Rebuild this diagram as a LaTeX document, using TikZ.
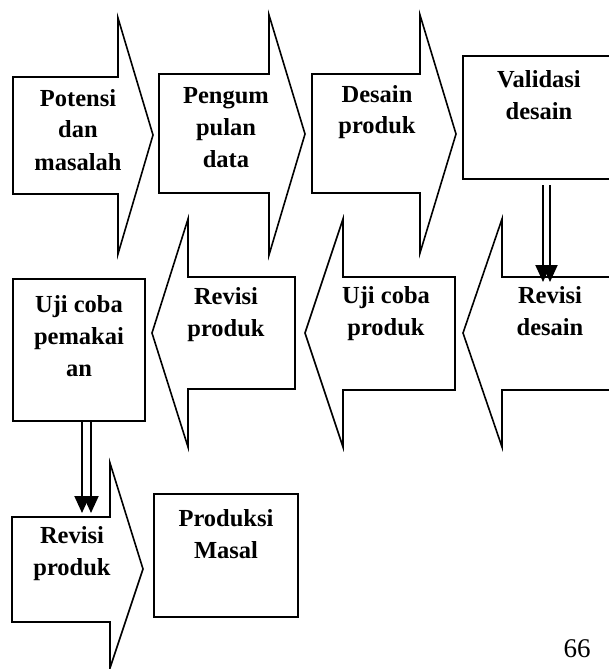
\documentclass[tikz,border=0pt]{standalone}
\usepackage{fontspec}
\setmainfont{Liberation Serif}
\usetikzlibrary{arrows.meta}
\begin{document}
\begin{tikzpicture}[x=1pt,y=-1pt,
  shp/.style={draw=black,line width=1.6pt,fill=white,line join=miter},
  boxn/.style={draw=black,line width=2.2pt,fill=white,rectangle,inner sep=0pt,outer sep=0pt,anchor=north west},
  lbl/.style={inner sep=0pt,anchor=base,font=\bfseries\fontsize{24.5}{32}\selectfont},
  dbl/.style={line width=2pt,-{Triangle[length=17pt,width=15pt]}}]
\useasboundingbox (0,0) rectangle (609,669);
\clip (0,0) rectangle (609,669);
% row 1
\draw[shp] (13,77) -- (118,77) -- (118,18) -- (153,135) -- (118,254) -- (118,194) -- (13,194) -- cycle;
\draw[shp] (159,74) -- (269,74) -- (269,15) -- (305,134) -- (269,255) -- (269,193) -- (159,193) -- cycle;
\draw[shp] (312,74) -- (420,74) -- (420,15) -- (456,134) -- (420,253) -- (420,193) -- (312,193) -- cycle;
\node[boxn,minimum width=150pt,minimum height=123pt] (val) at (463,56) {};
\node[lbl] (t1) at (78,106) {\begin{tabular}[t]{@{}c@{}}Potensi\\dan\\masalah\end{tabular}};
\node[lbl] (t2) at (226,103) {\begin{tabular}[t]{@{}c@{}}Pengum\\pulan\\data\end{tabular}};
\node[lbl] (t3) at (377,102) {\begin{tabular}[t]{@{}c@{}}Desain\\produk\end{tabular}};
\node[lbl] (t4) at (539,88) {\begin{tabular}[t]{@{}c@{}}Validasi\\desain\end{tabular}};
% row 2
\draw[shp] (152,333) -- (188,219) -- (188,277) -- (295,277) -- (295,389) -- (188,389) -- (188,447) -- cycle;
\draw[shp] (305,333) -- (343,219) -- (343,277) -- (455,277) -- (455,390) -- (343,390) -- (343,447) -- cycle;
\draw[shp] (463,333) -- (502,219) -- (502,277) -- (628,277) -- (628,390) -- (502,390) -- (502,447) -- cycle;
\node[boxn,minimum width=132pt,minimum height=142pt] (uji) at (13,279) {};
\node[lbl] (t5) at (79,312) {\begin{tabular}[t]{@{}c@{}}Uji coba\\pemakai\\an\end{tabular}};
\node[lbl] (t6) at (226,304) {\begin{tabular}[t]{@{}c@{}}Revisi\\produk\end{tabular}};
\node[lbl] (t7) at (386,303) {\begin{tabular}[t]{@{}c@{}}Uji coba\\produk\end{tabular}};
\node[lbl] (t8) at (550,303) {\begin{tabular}[t]{@{}c@{}}Revisi\\desain\end{tabular}};
% row 3
\draw[shp] (12,517) -- (110,517) -- (110,463) -- (143,569) -- (110,668) -- (110,622) -- (12,622) -- cycle;
\node[boxn,minimum width=144pt,minimum height=123pt] (prod) at (154,494) {};
\node[lbl] (t9) at (72,543) {\begin{tabular}[t]{@{}c@{}}Revisi\\produk\end{tabular}};
\node[lbl] (t10) at (226,526) {\begin{tabular}[t]{@{}c@{}}Produksi\\Masal\end{tabular}};
% connectors
\coordinate (rd1) at (543,282);
\coordinate (rd2) at (550,282);
\coordinate (rp1) at (82,513);
\coordinate (rp2) at (91,513);
\draw[dbl] ([xshift=5pt,yshift=-6pt]val.south) -- (rd1);
\draw[dbl] ([xshift=12pt,yshift=-6pt]val.south) -- (rd2);
\draw[dbl] ([xshift=3pt]uji.south) -- (rp1);
\draw[dbl] ([xshift=12pt]uji.south) -- (rp2);
% page number
\node[inner sep=0pt,anchor=base,font=\fontsize{27}{30}\selectfont] (pg) at (577,657) {66};
\end{tikzpicture}
\end{document}
